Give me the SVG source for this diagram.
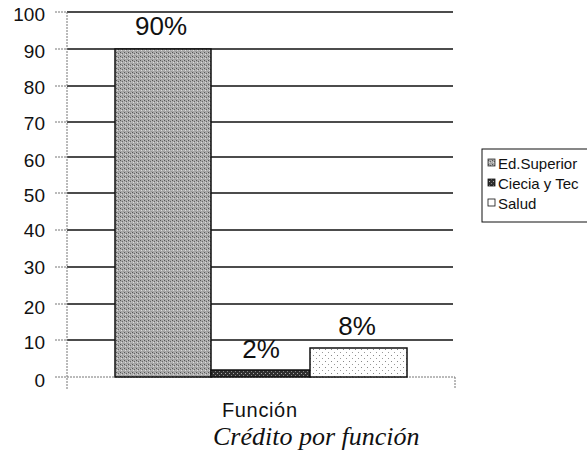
<svg xmlns="http://www.w3.org/2000/svg" width="587" height="462" viewBox="0 0 587 462">
  <defs>
    <pattern id="pGray" width="4" height="4" patternUnits="userSpaceOnUse">
      <rect width="4" height="4" fill="#a8a8a8"/>
      <rect x="0" y="0" width="1" height="1" fill="#555"/>
      <rect x="2" y="1" width="1" height="1" fill="#666"/>
      <rect x="1" y="2" width="1" height="1" fill="#dcdcdc"/>
      <rect x="3" y="3" width="1" height="1" fill="#5a5a5a"/>
      <rect x="3" y="0" width="1" height="4" fill="#c4c4c4" opacity="0.6"/>
    </pattern>
    <pattern id="pDark" width="4" height="4" patternUnits="userSpaceOnUse">
      <rect width="4" height="4" fill="#303030"/>
      <rect x="1" y="1" width="1" height="1" fill="#aaa"/>
      <rect x="3" y="3" width="1" height="1" fill="#888"/>
    </pattern>
    <pattern id="pLight" width="6" height="6" patternUnits="userSpaceOnUse">
      <rect width="6" height="6" fill="#ffffff"/>
      <rect x="1" y="1" width="1" height="1" fill="#888"/>
      <rect x="4" y="4" width="1" height="1" fill="#999"/>
    </pattern>
  </defs>
  <style>
    .sans { font-family: "Liberation Sans", Arimo, Arial, sans-serif; }
    .serif { font-family: "Liberation Serif", Tinos, "Times New Roman", serif; }
    .ylab { font-size: 19px; fill: #111; text-anchor: end; }
    .grid { stroke: #111; stroke-width: 1.4; }
    .tick { stroke: #777; stroke-width: 1; stroke-dasharray: 2 1; }
    .pct { font-size: 26px; fill: #111; text-anchor: middle; }
    .leg { font-size: 15px; fill: #111; }
    .bar { stroke: #111; stroke-width: 1.5; }
  </style>
  <rect width="587" height="462" fill="#ffffff"/>

  <g id="axes">
    <g class="grid">
      <line x1="67" y1="12" x2="453" y2="12"/>
      <line x1="67" y1="49" x2="453" y2="49"/>
      <line x1="67" y1="86" x2="453" y2="86"/>
      <line x1="67" y1="122" x2="453" y2="122"/>
      <line x1="67" y1="157" x2="453" y2="157"/>
      <line x1="67" y1="193" x2="453" y2="193"/>
      <line x1="67" y1="230" x2="453" y2="230"/>
      <line x1="67" y1="267" x2="453" y2="267"/>
      <line x1="67" y1="304" x2="453" y2="304"/>
      <line x1="67" y1="340" x2="453" y2="340"/>
    </g>
    <g class="tick">
      <line x1="55" y1="12" x2="67" y2="12"/>
      <line x1="55" y1="49" x2="67" y2="49"/>
      <line x1="55" y1="86" x2="67" y2="86"/>
      <line x1="55" y1="122" x2="67" y2="122"/>
      <line x1="55" y1="157" x2="67" y2="157"/>
      <line x1="55" y1="193" x2="67" y2="193"/>
      <line x1="55" y1="230" x2="67" y2="230"/>
      <line x1="55" y1="267" x2="67" y2="267"/>
      <line x1="55" y1="304" x2="67" y2="304"/>
      <line x1="55" y1="340" x2="67" y2="340"/>
      <line x1="55" y1="377" x2="67" y2="377"/>
      <line x1="67" y1="12" x2="67" y2="389"/>
      <line x1="67" y1="377" x2="455" y2="377"/>
      <line x1="455" y1="377" x2="455" y2="389"/>
    </g>
    <g class="sans ylab">
      <text x="45" y="21">100</text>
      <text x="45" y="58">90</text>
      <text x="45" y="94">80</text>
      <text x="45" y="130">70</text>
      <text x="45" y="167">60</text>
      <text x="45" y="202">50</text>
      <text x="45" y="237">40</text>
      <text x="45" y="274">30</text>
      <text x="45" y="314">20</text>
      <text x="45" y="349">10</text>
      <text x="45" y="387">0</text>
    </g>
  </g>

  <g id="bar-ed-superior">
    <rect class="bar" x="115" y="49" width="96" height="328" fill="url(#pGray)"/>
    <text class="sans pct" x="161" y="35">90%</text>
  </g>
  <g id="bar-ciencia">
    <rect class="bar" x="211" y="370" width="99" height="7" fill="url(#pDark)"/>
    <text class="sans pct" x="261" y="358">2%</text>
  </g>
  <g id="bar-salud">
    <rect class="bar" x="310" y="348" width="97" height="29" fill="url(#pLight)"/>
    <text class="sans pct" x="357" y="335">8%</text>
  </g>

  <g id="legend">
    <rect x="482" y="149" width="120" height="73" fill="#ffffff" stroke="#111" stroke-width="1"/>
    <rect x="488" y="159" width="7" height="7" fill="url(#pGray)" stroke="#333" stroke-width="0.8"/>
    <text class="sans leg" x="498" y="169">Ed.Superior</text>
    <rect x="488" y="179" width="7" height="7" fill="url(#pDark)" stroke="#111" stroke-width="0.8"/>
    <text class="sans leg" x="498" y="189">Ciecia y Tec</text>
    <rect x="488" y="199" width="7" height="7" fill="#ffffff" stroke="#111" stroke-width="0.8"/>
    <text class="sans leg" x="498" y="209">Salud</text>
  </g>

  <g id="titles">
    <text class="sans" x="222" y="417" font-size="20" fill="#111" textLength="75">Función</text>
    <text class="serif" x="213" y="445" font-size="26" font-style="italic" fill="#111">Crédito por función</text>
  </g>
</svg>
